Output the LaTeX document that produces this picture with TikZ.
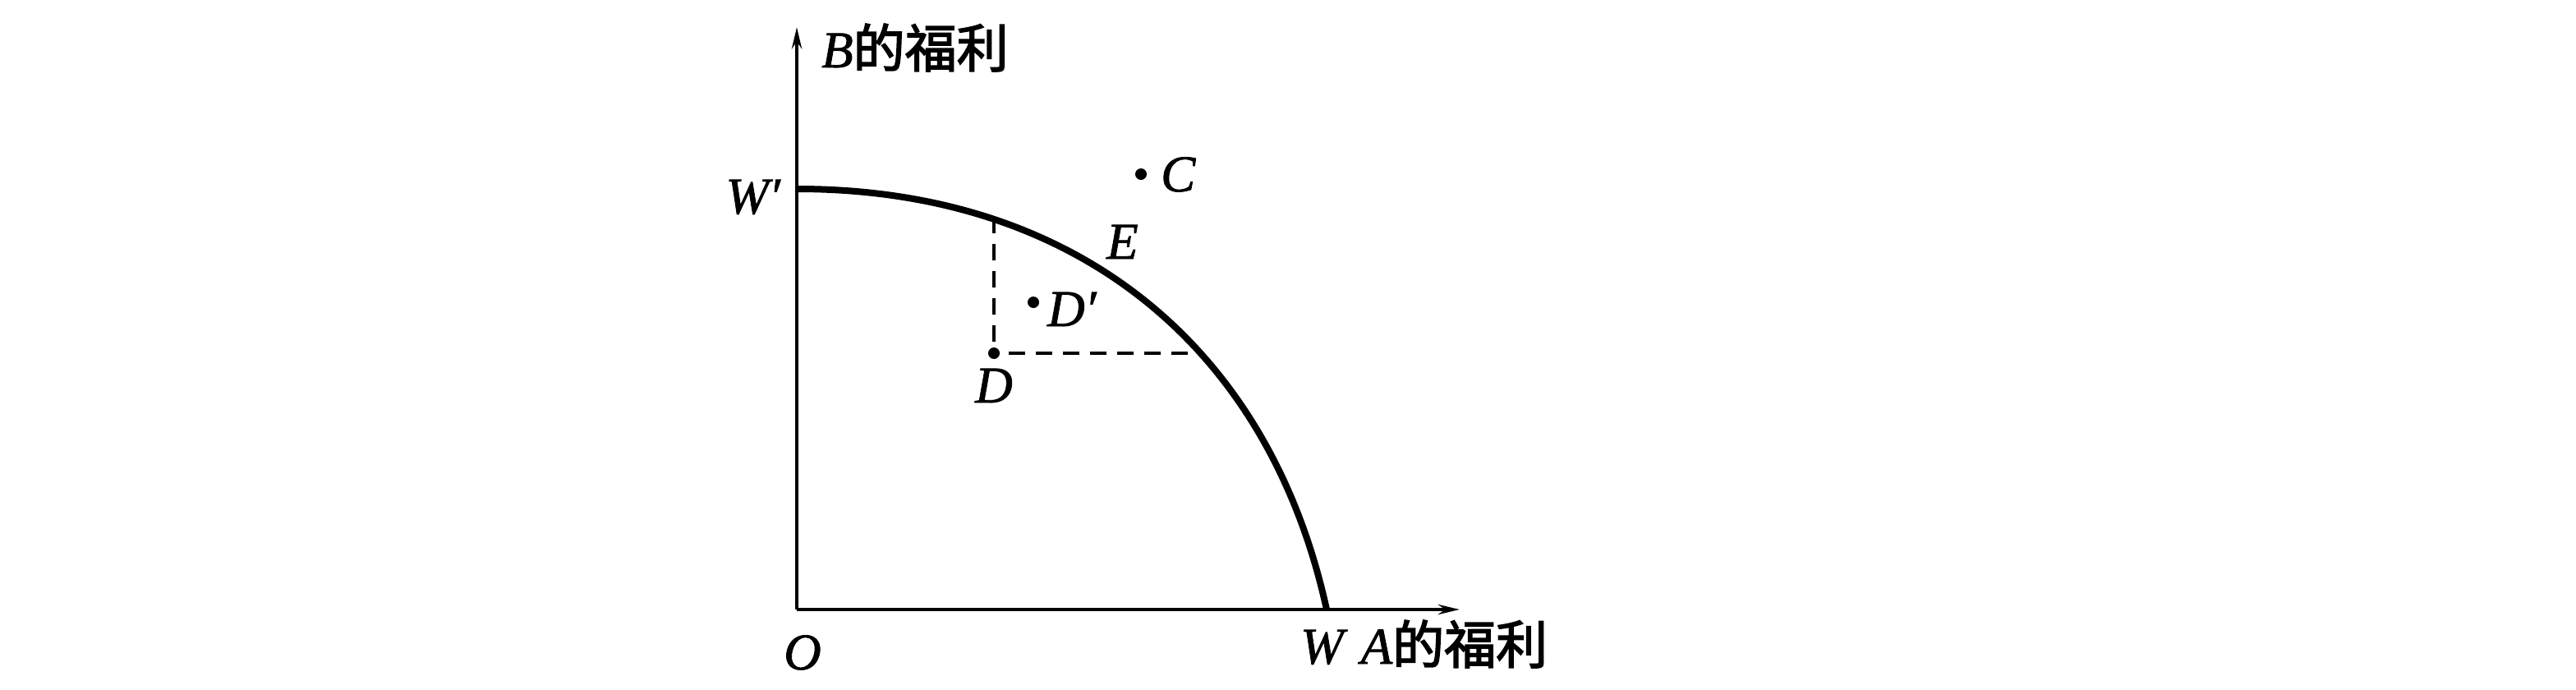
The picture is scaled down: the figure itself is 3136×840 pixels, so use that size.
\documentclass[tikz,border=0pt]{standalone}
\usepackage{fontspec}
\setmainfont{Liberation Serif}[FakeBold=1.2]
\newfontfamily\cjk{Noto Sans CJK SC}[FakeBold=2.5]
\usetikzlibrary{arrows.meta}
\begin{document}
\begin{tikzpicture}[x=1pt,y=1pt,
  axis/.style={line width=4.5pt,-{Stealth[length=26pt,width=12pt]}},
  frontier/.style={line width=8pt},
  guide/.style={line width=4pt,dash pattern=on 20pt off 13pt},
  lbl/.style={inner sep=0pt,font=\fontsize{63}{70}\selectfont\itshape},
  pt/.style={circle,fill=black,inner sep=0pt,minimum size=14pt}]
\useasboundingbox[fill=white] (0,0) rectangle (3136,-840);
% axes
\coordinate (O) at (970,-742);
\coordinate (ytop) at (970,-33);
\coordinate (xend) at (1777,-742);
\draw[axis] (O) -- (ytop);
\draw[axis] (O) -- (xend);
% frontier
\coordinate (Wp) at (970,-230);
\coordinate (W) at (1615,-742);
\draw[frontier] (Wp) .. controls (1310,-230) and (1545,-422) .. (W);
% points
\node[pt] (D) at (1210,-430) {};
\coordinate (Dtop) at (1210,-264);
\coordinate (Dright) at (1446,-430);
\draw[guide] (Dtop) -- (D.center);
\draw[guide] (Dright) -- (D.center);
\node[pt] (Dp) at (1258,-368) {};
\node[pt] (C) at (1389,-212) {};
% labels
\node[lbl,anchor=base west] (Blab) at (1000,-82) {B{\cjk\upshape 的福利}};
\node[lbl,anchor=base east] (Wplab) at (950,-260) {W′};
\node[lbl,anchor=base] (Olab) at (977,-815) {O};
\node[lbl,anchor=base west] (Alab) at (1583,-808) {W\,\,A{\cjk\upshape 的福利}};
\node[lbl,anchor=base west] (Clab) at (1413,-233) {C};
\node[lbl,anchor=base west] (Elab) at (1347,-315) {E};
\node[lbl,anchor=base west] (Dplab) at (1275,-397) {D′};
\node[lbl,anchor=base] (Dlab) at (1210,-490) {D};
\end{tikzpicture}
\end{document}
